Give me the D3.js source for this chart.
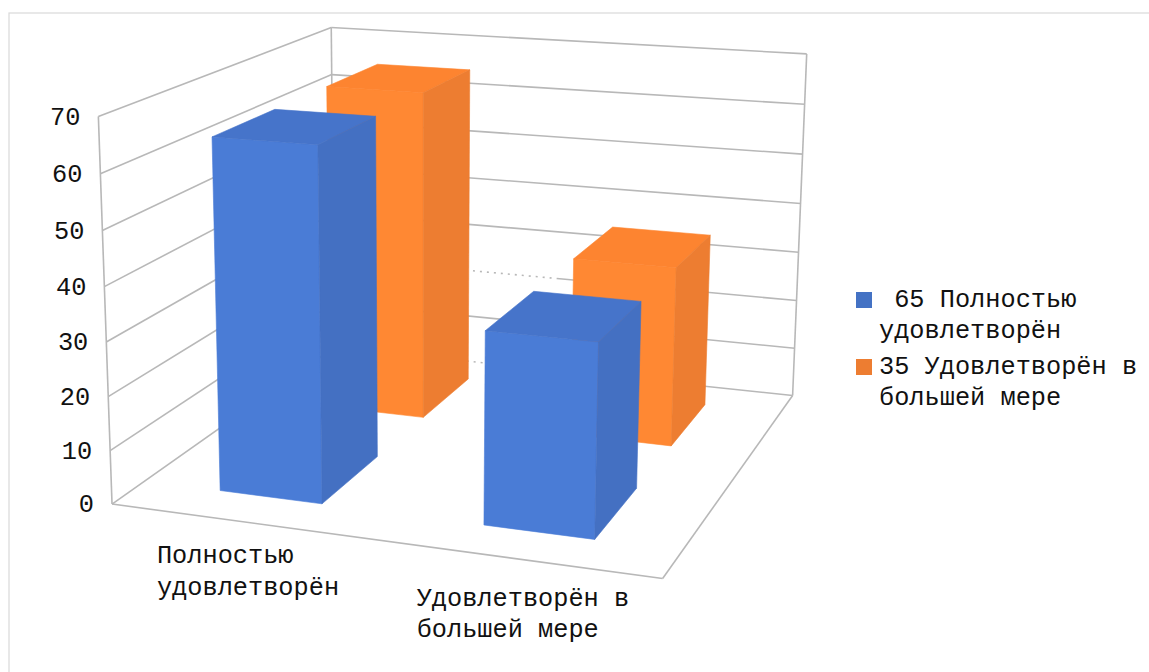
<!DOCTYPE html>
<html>
<head>
<meta charset="utf-8">
<script src="https://cdnjs.cloudflare.com/ajax/libs/d3/7.8.5/d3.min.js"></script>
<style>
html, body { margin: 0; padding: 0; background: #fff; overflow: hidden; }
text { font-family: "Liberation Mono", monospace; font-size: 25.3px; fill: #111; white-space: pre; }
</style>
</head>
<body>
<div id="chart"></div>
<script>
// chart data
var categories = ["Полностью удовлетворён", "Удовлетворён в большей мере"];
var categoryLines = [["Полностью", "удовлетворён"], ["Удовлетворён в", "большей мере"]];
var seriesNames = ["65 Полностью удовлетворён", "35 Удовлетворён в большей мере"];
var legendLines = [[" 65 Полностью", "удовлетворён"], ["35 Удовлетворён в", "большей мере"]];
var series1Values = [65, 35];
var series2Values = [65, 35];
var tickValues = [0, 10, 20, 30, 40, 50, 60, 70];
var seriesColours = ["#4472c4", "#ed7d31"];
var frontColours = ["#4a7cd6", "#ff8833"];
var topColours = ["#4674ca", "#fd8430"];
var sideColours = ["#4470c2", "#ed7d31"];

var width = 1149, height = 672;

var svg = d3.select("#chart").append("svg")
	.attr("width", width)
	.attr("height", height);

// outer frame of the chart, runs off the page on right and bottom
svg.append("rect")
	.attr("x", 9).attr("y", 13)
	.attr("width", width).attr("height", height)
	.attr("fill", "none")
	.attr("stroke", "#d9d9d9")
	.attr("stroke-width", 1.2);

// scales, all of them go to the unit cube
var xScale = d3.scaleBand().domain(categories).range([0, 1]).paddingInner(0.604).paddingOuter(0.302).align(0.497);
var zScale = d3.scaleBand().domain(seriesNames).range([0, 1]).paddingInner(0.48).paddingOuter(0.24).align(0.52);
var yScale = d3.scaleLinear().domain([0, 70]).range([0, 1]);

// camera: fit a projection matrix on the box corners seen in the picture
var calibration = [
	[0, 0, 0, 113, 503], [0, 1, 0, 97, 117],
	[0, 0, 1, 333, 348], [0, 1, 1, 333, 27],
	[1, 0, 0, 663, 579],
	[1, 0, 1, 793, 395], [1, 1, 1, 806, 54]
];

function fitCamera(points)
{
	let rows = [];
	points.forEach(function (p) {
		let X = p[0], Y = p[1], Z = p[2], u = p[3] / 1000, v = p[4] / 1000;
		rows.push([X, Y, Z, 1, 0, 0, 0, 0, -u * X, -u * Y, -u * Z, u]);
		rows.push([0, 0, 0, 0, X, Y, Z, 1, -v * X, -v * Y, -v * Z, v]);
	});
	// normal equations
	let n = 11, m = [];
	for (let i = 0; i < n; i++) {
		m.push([]);
		for (let j = 0; j <= n; j++) {
			m[i].push(d3.sum(rows, function (r) { return r[i] * r[j]; }));
		}
	}
	for (let i = 0; i < n; i++) {
		let best = i;
		for (let k = i + 1; k < n; k++) {
			if (Math.abs(m[k][i]) > Math.abs(m[best][i])) best = k;
		}
		let t = m[i]; m[i] = m[best]; m[best] = t;
		for (let k = 0; k < n; k++) {
			if (k === i) continue;
			let f = m[k][i] / m[i][i];
			for (let j = i; j <= n; j++) m[k][j] -= f * m[i][j];
		}
	}
	return m.map(function (r, i) { return r[n] / r[i]; });
}

var cam = fitCamera(calibration);

function project(X, Y, Z)
{
	let w = cam[8] * X + cam[9] * Y + cam[10] * Z + 1;
	return [
		1000 * (cam[0] * X + cam[1] * Y + cam[2] * Z + cam[3]) / w,
		1000 * (cam[4] * X + cam[5] * Y + cam[6] * Z + cam[7]) / w
	];
}

var line = d3.line();

function drawLine(g, from, to)
{
	return g.append("path")
		.attr("d", line([project(from[0], from[1], from[2]), project(to[0], to[1], to[2])]))
		.attr("fill", "none")
		.attr("stroke", "#b8b8b8")
		.attr("stroke-width", 1.6);
}

// walls and floor
var walls = svg.append("g").attr("id", "walls");

// these two lines are dotted on the left half of the back wall
var dottedTicks = [0, 20];

tickValues.forEach(function (t) {
	let h = yScale(t);
	drawLine(walls, [0, h, 0], [0, h, 1]);
	if (dottedTicks.indexOf(t) >= 0) {
		drawLine(walls, [0, h, 1], [0.5, h, 1]).attr("stroke-dasharray", "2,5");
		drawLine(walls, [0.5, h, 1], [1, h, 1]);
	} else {
		drawLine(walls, [0, h, 1], [1, h, 1]);
	}
});
drawLine(walls, [0, 0, 0], [0, 1, 0]);
drawLine(walls, [0, 0, 1], [0, 1, 1]);
drawLine(walls, [1, 0, 1], [1, 1, 1]);
drawLine(walls, [0, 0, 0], [1, 0, 0]);
drawLine(walls, [1, 0, 0], [1, 0, 1]);

// bars, back row first
function barFaces(x0, x1, z0, z1, h)
{
	let quad = function (a, b, c, d) {
		return [a, b, c, d].map(function (p) { return project(p[0], p[1], p[2]); });
	};
	return {
		front: quad([x0, 0, z0], [x1, 0, z0], [x1, h, z0], [x0, h, z0]),
		top: quad([x0, h, z0], [x1, h, z0], [x1, h, z1], [x0, h, z1]),
		side: quad([x1, 0, z0], [x1, 0, z1], [x1, h, z1], [x1, h, z0])
	};
}

var bars = svg.append("g").attr("id", "bars");
var seriesValues = [series1Values, series2Values];

d3.range(seriesNames.length).reverse().forEach(function (s) {
	let z0 = zScale(seriesNames[s]), z1 = z0 + zScale.bandwidth();
	categories.forEach(function (c, i) {
		let x0 = xScale(c), x1 = x0 + xScale.bandwidth();
		let f = barFaces(x0, x1, z0, z1, yScale(seriesValues[s][i]));
		let g = bars.append("g");
		[["front", frontColours], ["top", topColours], ["side", sideColours]].forEach(function (k) {
			g.append("path")
				.attr("d", line(f[k[0]]) + "Z")
				.attr("fill", k[1][s])
				.attr("stroke", k[1][s])
				.attr("stroke-width", 0.6);
		});
	});
});

// value labels sit left of the front wall edge
svg.append("g").selectAll("text")
	.data(tickValues)
	.enter()
	.append("text")
	.attr("x", function (d) { return project(0, yScale(d), 0)[0] - 18; })
	.attr("y", function (d) { return project(0, yScale(d), 0)[1]; })
	.attr("dy", "0.33em")
	.attr("text-anchor", "end")
	.text(function (d) { return d; });

// category labels under the front edge, left aligned inside a centred block
var charWidth = 15.18;
var labelDrop = [42, 47];
categories.forEach(function (c, i) {
	let p = project(xScale(c) + xScale.bandwidth() / 2, 0, 0);
	let blockWidth = d3.max(categoryLines[i], function (l) { return l.length; }) * charWidth;
	categoryLines[i].forEach(function (l, k) {
		svg.append("text")
			.attr("x", p[0] - blockWidth / 2 + 7.5)
			.attr("y", p[1] + labelDrop[i] + k * 31.5)
			.text(l);
	});
});

// legend
var legend = svg.append("g").attr("id", "legend");
var legendY = d3.scalePoint().domain(seriesNames).range([307, 374]);
seriesNames.forEach(function (name, s) {
	let y = legendY(name);
	legend.append("rect")
		.attr("x", 856).attr("y", y - 15)
		.attr("width", 16).attr("height", 16)
		.attr("fill", seriesColours[s]);
	legendLines[s].forEach(function (l, k) {
		legend.append("text")
			.attr("x", 879)
			.attr("y", y + k * 31)
			.text(l);
	});
});
</script>
</body>
</html>
